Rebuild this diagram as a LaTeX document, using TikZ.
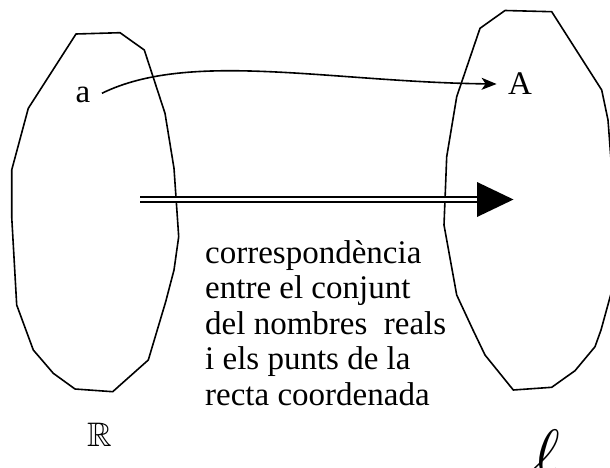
\documentclass[tikz,border=0pt]{standalone}
\usepackage{fontspec}
\setmainfont{Liberation Serif}
\usepackage{amssymb}
\usetikzlibrary{arrows.meta}

\begin{document}
\begin{tikzpicture}[x=1pt, y=-1pt,
  blob/.style={line width=1.6pt, line join=round},
  lbl/.style={font=\fontsize{33}{35.5}\selectfont, inner sep=0pt},
  mapping/.style={line width=1.6pt, -{Stealth[length=15pt, width=12pt, inset=4pt]}},
  corresp/.style={double, line width=2pt, double distance=3.6pt}]
\useasboundingbox (0,0) rectangle (610,468);

% the set of real numbers
\draw[blob] (76,34) -- (120,32.7) -- (144.3,50) -- (165,113.3) -- (174,168.3)
  -- (178.7,236.7) -- (174,270) -- (165.7,301.7) -- (148.3,360) -- (112.7,391.7)
  -- (75,389) -- (53.3,373.3) -- (33.3,350) -- (16.7,305) -- (11.7,216.7)
  -- (11.7,170) -- (28.3,108.3) -- cycle;

% the points of the coordinate line
\draw[blob] (505,10.5) -- (551.7,11.7) -- (601.7,90) -- (608,120) -- (614,200)
  -- (612,290) -- (601,330) -- (595,346.7) -- (575,370.7) -- (551.7,387.3)
  -- (513.3,390) -- (485,355) -- (473,330) -- (456.7,295) -- (444,225)
  -- (446.7,156.7) -- (456.7,96.7) -- (480,28.3) -- cycle;

% a number and its point
\node[lbl] (a) at (83,95) {a};
\node[lbl] (A) at (520,84) {A};
\draw[mapping] ([xshift=11.4pt, yshift=1.7pt]a.east)
  .. controls (190,50) and (330,82) .. ([xshift=-11.3pt]A.west);

% the correspondence itself
\coordinate (s) at (140,199.5);
\coordinate (tb) at (477,199.5);
\coordinate (tip) at (513.5,199.5);
\draw[corresp] (s) -- ([xshift=3pt]tb);
\fill ([yshift=17.5pt]tb) -- (tip) -- ([yshift=-17.5pt]tb) -- cycle;

% caption; its base anchor sits on the last line
\node[lbl, anchor=base west, align=left] (txt) at (205,405)
  {correspondència\\entre el conjunt\\del nombres~ reals\\i els punts de la\\recta coordenada};

\node[inner sep=0pt, scale=3.4] (R) at (99.5,434.5) {$\mathbb{R}$};
\node[inner sep=0pt, scale=6.4, anchor=base] (ell) at (547,474) {$\ell$};
\end{tikzpicture}
\end{document}
